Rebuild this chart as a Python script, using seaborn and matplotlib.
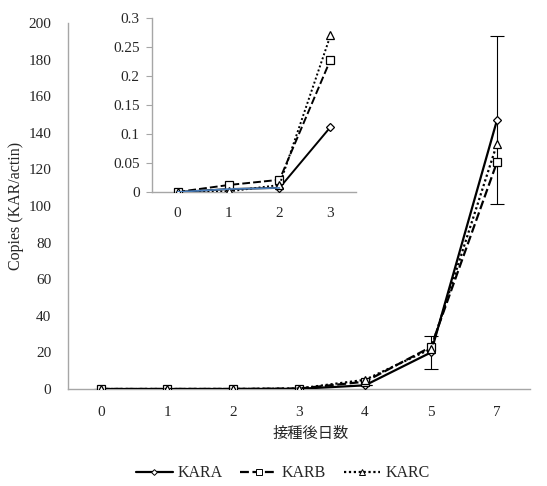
import matplotlib.pyplot as plt
from matplotlib.lines import Line2D
import pandas as pd
import seaborn as sns

# main chart data (copies KAR/actin by days after inoculation)
days = ['0', '1', '2', '3', '4', '5', '7']
kara = [0.0, 0.005, 0.007, 0.112, 2.0, 20.0, 147.0]
karb = [0.0, 0.012, 0.021, 0.228, 4.0, 23.0, 124.0]
karc = [0.0, 0.001, 0.012, 0.27, 5.0, 22.0, 134.0]
kara_err = [0, 0, 0, 0, 0, 9.0, 46.0]

# inset: first four days only
inset_days = days[:4]

sns.set_style('white')
plt.rcParams['font.family'] = ['Liberation Serif', 'Noto Sans CJK JP']
plt.rcParams['font.size'] = 11

series = {'KARA': kara, 'KARB': karb, 'KARC': karc}
markers = {'KARA': 'D', 'KARB': 's', 'KARC': '^'}
dashes = {'KARA': '', 'KARB': (4, 1.6), 'KARC': (1, 1.2)}
msizes = {'KARA': 4.2, 'KARB': 6, 'KARC': 6}

rows = []
for name, vals in series.items():
  for i, v in enumerate(vals):
    rows.append({'pos': i, 'day': days[i], 'val': v, 'series': name})
df = pd.DataFrame(rows)

fig = plt.figure(figsize=(5.47, 4.86), dpi=100)
ax = fig.add_axes([0.1243, 0.1996, 0.8447, 0.7531])

for name in series:
  sub = df[df['series'] == name]
  sns.lineplot(data=sub, x='pos', y='val', marker=markers[name],
               dashes=False, color='black', linewidth=1.6,
               markersize=msizes[name], markerfacecolor='white',
               markeredgecolor='black', markeredgewidth=0.9, legend=False,
               ax=ax, zorder=3,
               linestyle='-' if name == 'KARA' else (0, dashes[name]))
ax.errorbar(range(len(days)), kara, yerr=kara_err, fmt='none', ecolor='black',
            elinewidth=0.8, capsize=5, capthick=0.8, zorder=2)

ax.set_xlim(-0.5, len(days) - 0.5)
ax.set_ylim(0, 200)
ax.set_xticks(range(len(days)))
ax.set_xticklabels(days)
ax.set_yticks(range(0, 201, 20))
ax.tick_params(axis='x', length=0, pad=12, labelsize=11)
ax.tick_params(axis='y', length=0, pad=12, labelsize=11)
ax.set_xlabel('接種後日数', fontsize=11)
ax.xaxis.set_label_coords(0.526, -0.105)
ax.set_ylabel('Copies (KAR/actin)', fontsize=11.5, labelpad=3)
for s in ['top', 'right']:
  ax.spines[s].set_visible(False)
for s in ['left', 'bottom']:
  ax.spines[s].set_color('#a6a6a6')
  ax.spines[s].set_linewidth(1.0)

# inset
ins = fig.add_axes([0.2779, 0.605, 0.3729, 0.358])
dfi = df[df['pos'] < len(inset_days)]
for name in series:
  sub = dfi[dfi['series'] == name]
  sns.lineplot(data=sub, x='pos', y='val', marker=markers[name],
               dashes=False, color='black', linewidth=1.4,
               markersize=msizes[name] * 0.95, markerfacecolor='white',
               markeredgecolor='black', markeredgewidth=0.9, legend=False,
               ax=ins, zorder=3,
               linestyle='-' if name == 'KARA' else (0, dashes[name]))
ins.plot(range(3), kara[:3], color='#4a7ebb', linewidth=1.2, zorder=4)
ins.set_xlim(-0.5, len(inset_days) - 0.5)
ins.set_ylim(0, 0.3)
ins.set_yticks([0, 0.05, 0.1, 0.15, 0.2, 0.25, 0.3])
ins.set_yticklabels(['0', '0.05', '0.1', '0.15', '0.2', '0.25', '0.3'])
ins.set_xticks(range(len(inset_days)))
ins.set_xticklabels(inset_days)
ins.set_xticks([i - 0.5 for i in range(len(inset_days) + 1)], minor=True)
ins.tick_params(axis='x', which='major', length=0, pad=11, labelsize=11)
ins.tick_params(axis='x', which='minor', length=4, color='#a6a6a6', direction='out')
ins.tick_params(axis='y', length=4, color='#a6a6a6', direction='out', pad=5,
                labelsize=11, left=True)
ins.set_xlabel('')
ins.set_ylabel('')
ins.patch.set_alpha(0)
for s in ['top', 'right']:
  ins.spines[s].set_visible(False)
for s in ['left', 'bottom']:
  ins.spines[s].set_color('#a6a6a6')
  ins.spines[s].set_linewidth(1.0)

handles = [Line2D([], [], color='black', linewidth=1.6, marker=markers[n],
                  markersize=msizes[n] * 0.7, markerfacecolor='white',
                  markeredgecolor='black', markeredgewidth=0.7,
                  linestyle='-' if n == 'KARA' else (0, dashes[n]))
           for n in series]
fig.legend(handles, list(series.keys()), loc='center', ncol=3,
           bbox_to_anchor=(0.517, 0.026), frameon=False, handlelength=2.3,
           columnspacing=1.1, handletextpad=0.3, fontsize=11.5,
           borderpad=0)

plt.savefig('out.png', dpi=100)
